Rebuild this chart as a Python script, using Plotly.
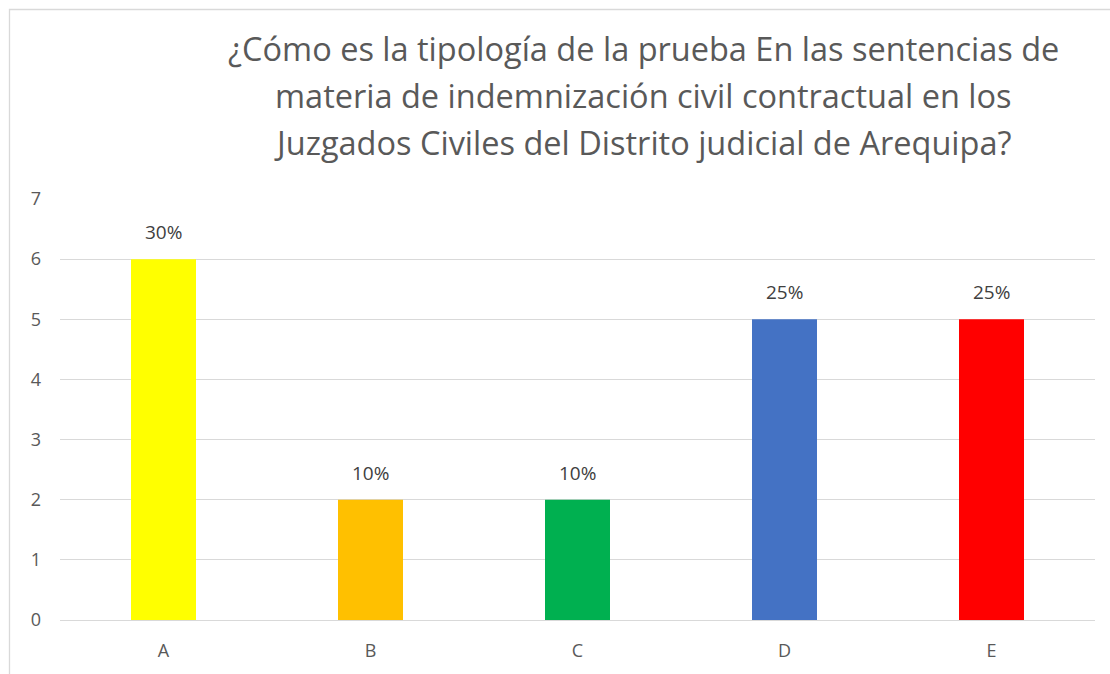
import plotly.graph_objects as go

categorias = ["A", "B", "C", "D", "E"]
valores = [6, 2, 2, 5, 5]
porcentajes = ["30%", "10%", "10%", "25%", "25%"]
colores = ["#FFFF00", "#FFC000", "#00B050", "#4472C4", "#FF0000"]
titulo = [
    "¿Cómo es la tipología de la prueba En las sentencias de",
    "materia de indemnización civil contractual en los",
    "Juzgados Civiles del Distrito judicial de Arequipa?",
]

W, H = 1110, 674
L, R, T, B = 60, 15, 199, 54
pw, ph = W - L - R, H - T - B
FUENTE = "Open Sans"

def px_x(p):
    return (p - L) / pw

def px_y(p):
    return (H - B - p) / ph

fig = go.Figure()
fig.add_trace(
    go.Bar(
        x=categorias,
        y=valores,
        marker=dict(color=colores, line=dict(width=0)),
        hoverinfo="x+y",
    )
)

# etiquetas de porcentaje encima de cada barra
for cat, val, txt in zip(categorias, valores, porcentajes):
    fig.add_annotation(
        x=cat, y=val, text=txt, showarrow=False,
        yanchor="bottom", yshift=12,
        font=dict(family=FUENTE, size=19, color="#404040"),
    )

# titulo, una anotacion por linea
for i, linea in enumerate(titulo):
    fig.add_annotation(
        xref="paper", yref="paper",
        x=px_x(643), y=px_y(62 + 47 * i),
        text=linea, showarrow=False,
        xanchor="center", yanchor="bottom", yshift=-11,
        font=dict(family=FUENTE, size=32.5, color="#595959"),
    )

# borde del area del grafico
fig.add_shape(
    type="rect", xref="paper", yref="paper",
    x0=px_x(9.5), y0=px_y(700), x1=px_x(1200), y1=px_y(9.5),
    line=dict(color="#D9D9D9", width=1.3), fillcolor="rgba(0,0,0,0)",
    layer="below",
)

fig.update_layout(
    width=W, height=H,
    margin=dict(l=L, r=R, t=T, b=B),
    paper_bgcolor="white", plot_bgcolor="white",
    bargap=0.686,
    showlegend=False,
    font=dict(family=FUENTE, size=18, color="#595959"),
)
fig.update_xaxes(
    showgrid=False, showline=False, zeroline=False,
    ticks="", ticklabelstandoff=18,
    tickfont=dict(family=FUENTE, size=18, color="#595959"),
)
fig.update_yaxes(
    range=[0, 7], dtick=1,
    showgrid=True, gridcolor="#D9D9D9", gridwidth=1.3,
    zeroline=True, zerolinecolor="#D9D9D9", zerolinewidth=1.3,
    showline=False, ticks="", ticklabelstandoff=18,
    tickfont=dict(family=FUENTE, size=18, color="#595959"),
)

fig.write_html(
    "out.html",
    config={"displayModeBar": False},
    post_script="document.body.style.margin='0';",
)
